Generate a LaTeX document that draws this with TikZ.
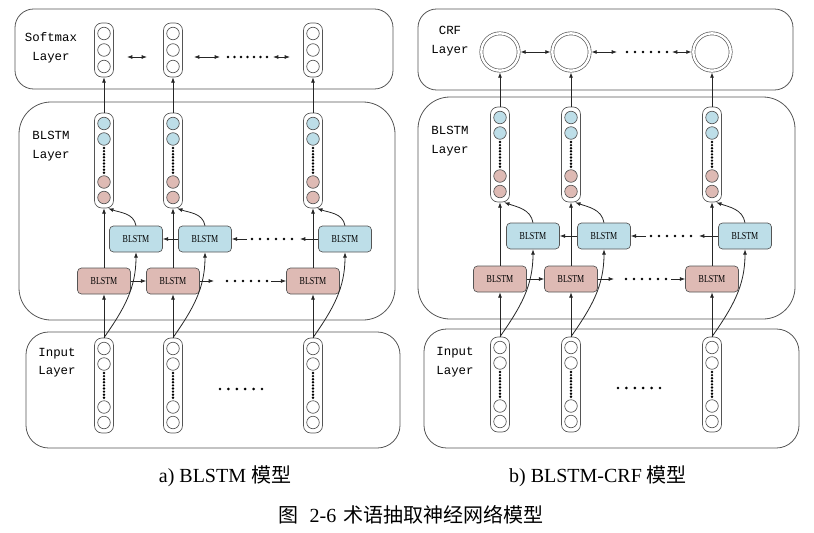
\documentclass[tikz,border=0pt]{standalone}
\usepackage{fontspec}
\setmainfont{Liberation Serif}
\newfontfamily\cjk{Noto Sans CJK SC}
\newfontfamily\labfont{Liberation Mono}
\newfontfamily\cellfont[FakeStretch=0.75]{Liberation Serif}
\usetikzlibrary{arrows.meta,positioning,calc}
\definecolor{cellblue}{RGB}{189,222,232}
\definecolor{cellpink}{RGB}{222,186,180}
\definecolor{edgegray}{RGB}{85,85,85}

\begin{document}
\begin{tikzpicture}[x=0.75pt, y=-0.75pt,
    layerbox/.style={draw=edgegray, rounded corners=14pt, inner sep=0pt, line width=0.6pt},
    lab/.style={font=\labfont\fontsize{9.3}{14}\selectfont, align=center, inner sep=0pt},
    vec/.style={draw=edgegray, rounded corners=5.5pt, minimum width=14.25pt, inner sep=0pt, line width=0.5pt},
    neuron/.style={circle, draw=edgegray, fill=white, minimum size=9.4pt, inner sep=0pt, line width=0.5pt},
    lstmcell/.style={draw=edgegray, rounded corners=3pt, minimum width=39.75pt, minimum height=19.5pt, inner sep=0pt, line width=0.5pt, font=\cellfont\fontsize{8}{8}\selectfont},
    fwd/.style={lstmcell, fill=cellpink},
    bwd/.style={lstmcell, fill=cellblue},
    crf/.style={circle, draw=edgegray, double, double distance=1.8pt, minimum size=28pt, inner sep=0pt, outer sep=1.3pt, line width=0.5pt},
    arrow/.style={-{Latex[length=4pt,width=3pt]}, line width=0.6pt, black!85},
    darrow/.style={{Latex[length=4pt,width=3pt]}-{Latex[length=4pt,width=3pt]}, line width=0.6pt, black!85},
    caption/.style={font=\fontsize{15}{18}\selectfont, inner sep=0pt}
]
    \useasboundingbox (0,0) rectangle (814,532);

    % a) BLSTM
    \node[layerbox, minimum width=283.5pt, minimum height=60pt] (softL) at (204,49) {};
    \node[layerbox, rounded corners=24pt, minimum width=282pt, minimum height=163.5pt] (blstmL) at (207,211) {};
    \node[layerbox, rounded corners=17pt, minimum width=280.5pt, minimum height=87pt] (inputL) at (213,390) {};
    \node[lab] (softlab) at (51,47.5) {Softmax\\Layer};
    \node[lab] (blstmlabL) at (51,146) {BLSTM\\Layer};
    \node[lab] (inputlabL) at (57,362.5) {Input\\Layer};

    \foreach \x/\i in {104/1,173/2,313/3}{
        \node[vec, minimum height=40.5pt] (sv\i) at (\x,50) {};
        \foreach \y/\k in {33.5/1,50/2,66.5/3}
            \node[neuron] (sv\i-\k) at (\x,\y) {};
        \node[vec, minimum height=71.25pt] (hv\i) at (\x,160.5) {};
        \node[neuron, fill=cellblue] (hv\i-1) at (\x,123.5) {};
        \node[neuron, fill=cellblue] (hv\i-2) at (\x,139) {};
        \node[neuron, fill=cellpink] (hv\i-3) at (\x,182) {};
        \node[neuron, fill=cellpink] (hv\i-4) at (\x,197.5) {};
        \foreach \k in {0,...,8} \fill (\x,148+\k*3.1) circle (1pt);
        \node[vec, minimum height=71.25pt] (iv\i) at (\x,385.5) {};
        \node[neuron] (iv\i-1) at (\x,348.5) {};
        \node[neuron] (iv\i-2) at (\x,364) {};
        \node[neuron] (iv\i-3) at (\x,407) {};
        \node[neuron] (iv\i-4) at (\x,422.5) {};
        \foreach \k in {0,...,8} \fill (\x,373+\k*3.1) circle (1pt);
        \node[fwd] (f\i) at (\x,281) {BLSTM};
        \node[bwd] (b\i) at (\x+32,239) {BLSTM};
        \draw[arrow] (iv\i) -- (f\i);
        \draw[arrow] (f\i) -- (hv\i);
        \draw[arrow] (iv\i.north) to[out=55,in=-90] (b\i.south);
        \draw[arrow] (b\i.north) to[out=100,in=-20] (hv\i.-85);
        \draw[arrow] (hv\i) -- (sv\i);
    }
    % softmax row
    \coordinate (sa1) at (127,57); \coordinate (sa2) at (147,57);
    \coordinate (sa3) at (194,57); \coordinate (sa4) at (220,57);
    \coordinate (sa5) at (273,57); \coordinate (sa6) at (290,57);
    \draw[darrow] (sa1) -- (sa2);
    \draw[darrow] (sa3) -- (sa4);
    \draw[darrow] (sa5) -- (sa6);
    \foreach \k in {0,...,6} \fill (228+\k*6.5,57) circle (1.1pt);
    % forward row
    \coordinate (fa1) at (214,281); \coordinate (fa2) at (271,281);
    \draw[arrow] (f1) -- (f2);
    \draw[arrow] (f2) -- (fa1);
    \draw[arrow] (fa2) -- (f3);
    \foreach \k in {0,...,5} \fill (227+\k*8,281) circle (1.1pt);
    % backward row
    \coordinate (ba1) at (300,239); \coordinate (ba2) at (247,239);
    \draw[arrow] (b2) -- (b1);
    \draw[arrow] (b3) -- (ba1);
    \draw[arrow] (ba2) -- (b2);
    \foreach \k in {0,...,5} \fill (252+\k*8,239) circle (1.1pt);
    \foreach \k in {0,...,5} \fill (220+\k*8.4,389) circle (1.1pt);

    % b) BLSTM-CRF
    \node[layerbox, minimum width=281.25pt, minimum height=60.75pt] (crfR) at (605.5,49.5) {};
    \node[layerbox, rounded corners=24pt, minimum width=282.75pt, minimum height=166.5pt] (blstmR) at (606.5,208) {};
    \node[layerbox, rounded corners=17pt, minimum width=281.25pt, minimum height=89.25pt] (inputR) at (611.5,388.5) {};
    \node[lab] (crflab) at (450,41) {CRF\\Layer};
    \node[lab] (blstmlabR) at (450,141) {BLSTM\\Layer};
    \node[lab] (inputlabR) at (455,362) {Input\\Layer};

    \foreach \x/\i in {500/1,571/2,712/3}{
        \node[crf] (c\i) at (\x,52) {};
        \node[vec, minimum height=71.25pt] (rhv\i) at (\x,154.5) {};
        \node[neuron, fill=cellblue] (rhv\i-1) at (\x,117.5) {};
        \node[neuron, fill=cellblue] (rhv\i-2) at (\x,133) {};
        \node[neuron, fill=cellpink] (rhv\i-3) at (\x,176) {};
        \node[neuron, fill=cellpink] (rhv\i-4) at (\x,191.5) {};
        \foreach \k in {0,...,8} \fill (\x,142+\k*3.1) circle (1pt);
        \node[vec, minimum height=71.25pt] (riv\i) at (\x,384.5) {};
        \node[neuron] (riv\i-1) at (\x,347.5) {};
        \node[neuron] (riv\i-2) at (\x,363) {};
        \node[neuron] (riv\i-3) at (\x,406) {};
        \node[neuron] (riv\i-4) at (\x,421.5) {};
        \foreach \k in {0,...,8} \fill (\x,372+\k*3.1) circle (1pt);
        \node[fwd] (rf\i) at (\x,279) {BLSTM};
        \node[bwd] (rb\i) at (\x+33,236) {BLSTM};
        \draw[arrow] (riv\i) -- (rf\i);
        \draw[arrow] (rf\i) -- (rhv\i);
        \draw[arrow] (riv\i.north) to[out=55,in=-90] (rb\i.south);
        \draw[arrow] (rb\i.north) to[out=100,in=-20] (rhv\i.-85);
        \draw[arrow] (rhv\i) -- (c\i);
    }
    % crf row
    \coordinate (ca1) at (617,52); \coordinate (ca2) at (672,52);
    \draw[darrow] (c1) -- (c2);
    \draw[darrow] (c2) -- (ca1);
    \draw[darrow] (ca2) -- (c3);
    \foreach \k in {0,...,5} \fill (627+\k*8,52) circle (1.1pt);
    % forward row
    \coordinate (rfa1) at (614,279); \coordinate (rfa2) at (671,279);
    \draw[arrow] (rf1) -- (rf2);
    \draw[arrow] (rf2) -- (rfa1);
    \draw[arrow] (rfa2) -- (rf3);
    \foreach \k in {0,...,5} \fill (626+\k*8,279) circle (1.1pt);
    % backward row
    \coordinate (rba1) at (699,236); \coordinate (rba2) at (646,236);
    \draw[arrow] (rb2) -- (rb1);
    \draw[arrow] (rb3) -- (rba1);
    \draw[arrow] (rba2) -- (rb2);
    \foreach \k in {0,...,5} \fill (651+\k*8,236) circle (1.1pt);
    \foreach \k in {0,...,5} \fill (618+\k*8.4,388) circle (1.1pt);

    % captions
    \node[caption] (capa) at (225,476) {a) BLSTM {\cjk 模型}};
    \node[caption] (capb) at (598,476) {b) BLSTM-CRF {\cjk 模型}};
    \node[caption] (capmain) at (411,515) {{\cjk 图}\hspace{0.55em}2-6\hspace{0.35em}{\cjk 术语抽取神经网络模型}};
\end{tikzpicture}
\end{document}
